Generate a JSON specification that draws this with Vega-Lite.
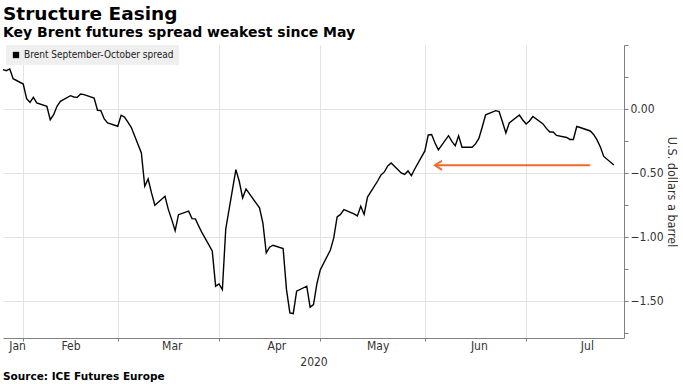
{
  "$schema": "https://vega.github.io/schema/vega-lite/v6.json",
  "background": "#ffffff",
  "padding": {"left": 0, "top": 5, "right": 0, "bottom": 0},
  "autosize": {"type": "pad"},
  "title": {"text": "Source: ICE Futures Europe", "orient": "bottom", "anchor": "start", "frame": "group", "font": "DejaVu Sans", "fontSize": 10.5, "fontWeight": "bold", "color": "#000000", "offset": 5},
  "config": {"view": {"stroke": null}},
  "datasets": {
    "spread": [
      {"date": "2020-01-28", "spread": 0.307}, {"date": "2020-01-29", "spread": 0.299}, {"date": "2020-01-30", "spread": 0.313}, {"date": "2020-01-31", "spread": 0.237},
      {"date": "2020-02-03", "spread": 0.195}, {"date": "2020-02-04", "spread": 0.080}, {"date": "2020-02-05", "spread": 0.052}, {"date": "2020-02-06", "spread": 0.091}, {"date": "2020-02-07", "spread": 0.047},
      {"date": "2020-02-10", "spread": 0.021}, {"date": "2020-02-11", "spread": -0.084}, {"date": "2020-02-12", "spread": -0.045}, {"date": "2020-02-13", "spread": 0.021}, {"date": "2020-02-14", "spread": 0.060},
      {"date": "2020-02-17", "spread": 0.104}, {"date": "2020-02-18", "spread": 0.094}, {"date": "2020-02-19", "spread": 0.091}, {"date": "2020-02-20", "spread": 0.117}, {"date": "2020-02-21", "spread": 0.112},
      {"date": "2020-02-24", "spread": 0.086}, {"date": "2020-02-25", "spread": -0.010}, {"date": "2020-02-26", "spread": -0.013}, {"date": "2020-02-27", "spread": -0.078}, {"date": "2020-02-28", "spread": -0.109},
      {"date": "2020-03-02", "spread": -0.135}, {"date": "2020-03-03", "spread": -0.049}, {"date": "2020-03-04", "spread": -0.063}, {"date": "2020-03-05", "spread": -0.102}, {"date": "2020-03-06", "spread": -0.143},
      {"date": "2020-03-09", "spread": -0.344}, {"date": "2020-03-10", "spread": -0.604}, {"date": "2020-03-11", "spread": -0.547}, {"date": "2020-03-12", "spread": -0.656}, {"date": "2020-03-13", "spread": -0.752},
      {"date": "2020-03-16", "spread": -0.682}, {"date": "2020-03-17", "spread": -0.787}, {"date": "2020-03-18", "spread": -0.865}, {"date": "2020-03-19", "spread": -0.951}, {"date": "2020-03-20", "spread": -0.826},
      {"date": "2020-03-23", "spread": -0.799}, {"date": "2020-03-24", "spread": -0.857}, {"date": "2020-03-25", "spread": -0.859}, {"date": "2020-03-26", "spread": -0.916}, {"date": "2020-03-27", "spread": -0.969},
      {"date": "2020-03-30", "spread": -1.109}, {"date": "2020-03-31", "spread": -1.385},
      {"date": "2020-04-01", "spread": -1.367}, {"date": "2020-04-02", "spread": -1.412}, {"date": "2020-04-03", "spread": -0.938},
      {"date": "2020-04-06", "spread": -0.474}, {"date": "2020-04-07", "spread": -0.565}, {"date": "2020-04-08", "spread": -0.695}, {"date": "2020-04-09", "spread": -0.625},
      {"date": "2020-04-13", "spread": -0.773}, {"date": "2020-04-14", "spread": -0.891}, {"date": "2020-04-15", "spread": -1.125}, {"date": "2020-04-16", "spread": -1.080}, {"date": "2020-04-17", "spread": -1.065},
      {"date": "2020-04-20", "spread": -1.091}, {"date": "2020-04-21", "spread": -1.412}, {"date": "2020-04-22", "spread": -1.594}, {"date": "2020-04-23", "spread": -1.599}, {"date": "2020-04-24", "spread": -1.424},
      {"date": "2020-04-27", "spread": -1.385}, {"date": "2020-04-28", "spread": -1.549}, {"date": "2020-04-29", "spread": -1.529}, {"date": "2020-04-30", "spread": -1.367},
      {"date": "2020-05-01", "spread": -1.258},
      {"date": "2020-05-04", "spread": -1.102}, {"date": "2020-05-05", "spread": -1.008}, {"date": "2020-05-06", "spread": -0.844}, {"date": "2020-05-07", "spread": -0.824}, {"date": "2020-05-08", "spread": -0.787},
      {"date": "2020-05-11", "spread": -0.820}, {"date": "2020-05-12", "spread": -0.836}, {"date": "2020-05-13", "spread": -0.760}, {"date": "2020-05-14", "spread": -0.824}, {"date": "2020-05-15", "spread": -0.688},
      {"date": "2020-05-18", "spread": -0.563}, {"date": "2020-05-19", "spread": -0.516}, {"date": "2020-05-20", "spread": -0.492}, {"date": "2020-05-21", "spread": -0.445}, {"date": "2020-05-22", "spread": -0.422},
      {"date": "2020-05-25", "spread": -0.500}, {"date": "2020-05-26", "spread": -0.512}, {"date": "2020-05-27", "spread": -0.484}, {"date": "2020-05-28", "spread": -0.521}, {"date": "2020-05-29", "spread": -0.469},
      {"date": "2020-06-01", "spread": -0.328}, {"date": "2020-06-02", "spread": -0.203}, {"date": "2020-06-03", "spread": -0.199}, {"date": "2020-06-04", "spread": -0.266}, {"date": "2020-06-05", "spread": -0.320},
      {"date": "2020-06-08", "spread": -0.209}, {"date": "2020-06-09", "spread": -0.254}, {"date": "2020-06-10", "spread": -0.287}, {"date": "2020-06-11", "spread": -0.209}, {"date": "2020-06-12", "spread": -0.299},
      {"date": "2020-06-15", "spread": -0.299}, {"date": "2020-06-16", "spread": -0.273}, {"date": "2020-06-17", "spread": -0.230}, {"date": "2020-06-18", "spread": -0.141}, {"date": "2020-06-19", "spread": -0.045},
      {"date": "2020-06-22", "spread": -0.013}, {"date": "2020-06-23", "spread": -0.020}, {"date": "2020-06-24", "spread": -0.102}, {"date": "2020-06-25", "spread": -0.188}, {"date": "2020-06-26", "spread": -0.109},
      {"date": "2020-06-29", "spread": -0.047}, {"date": "2020-06-30", "spread": -0.086},
      {"date": "2020-07-01", "spread": -0.117}, {"date": "2020-07-02", "spread": -0.094}, {"date": "2020-07-03", "spread": -0.059},
      {"date": "2020-07-06", "spread": -0.117}, {"date": "2020-07-07", "spread": -0.152}, {"date": "2020-07-08", "spread": -0.180}, {"date": "2020-07-09", "spread": -0.180}, {"date": "2020-07-10", "spread": -0.207},
      {"date": "2020-07-13", "spread": -0.223}, {"date": "2020-07-14", "spread": -0.238}, {"date": "2020-07-15", "spread": -0.238}, {"date": "2020-07-16", "spread": -0.137}, {"date": "2020-07-17", "spread": -0.145},
      {"date": "2020-07-20", "spread": -0.172}, {"date": "2020-07-21", "spread": -0.199}, {"date": "2020-07-22", "spread": -0.242}, {"date": "2020-07-23", "spread": -0.297}, {"date": "2020-07-24", "spread": -0.371},
      {"date": "2020-07-27", "spread": -0.438}
    ],
    "arrow": [{"from": "2020-06-04", "to": "2020-07-20", "level": -0.44}]
  },
  "vconcat": [
    {
      "width": 621,
      "height": 293,
      "title": {"text": "Structure Easing", "subtitle": "Key Brent futures spread weakest since May", "anchor": "start", "frame": "group", "font": "DejaVu Sans", "fontSize": 18.5, "fontWeight": "bold", "color": "#000000", "subtitleFont": "DejaVu Sans", "subtitleFontSize": 14, "subtitleFontWeight": "bold", "subtitleColor": "#000000", "subtitlePadding": 2, "offset": 5},
      "resolve": {"axis": {"y": "independent"}},
      "layer": [
        {
          "data": {"name": "spread"},
          "mark": {"type": "line", "color": "#000000", "strokeWidth": 1.4},
          "encoding": {
            "x": {
              "field": "date", "type": "temporal",
              "scale": {"type": "utc", "domain": [{"year": 2020, "month": 1, "date": 28, "utc": true}, {"year": 2020, "month": 7, "date": 30, "utc": true}]},
              "axis": {
                "title": "2020",
                "values": [
                  {"year": 2020, "month": 2, "date": 1, "hours": 4, "utc": true},
                  {"year": 2020, "month": 2, "date": 3, "utc": true},
                  {"year": 2020, "month": 2, "date": 17, "utc": true},
                  {"year": 2020, "month": 3, "date": 2, "utc": true},
                  {"year": 2020, "month": 3, "date": 18, "utc": true},
                  {"year": 2020, "month": 4, "date": 1, "utc": true},
                  {"year": 2020, "month": 4, "date": 18, "utc": true},
                  {"year": 2020, "month": 5, "date": 1, "utc": true},
                  {"year": 2020, "month": 5, "date": 18, "utc": true},
                  {"year": 2020, "month": 6, "date": 1, "utc": true},
                  {"year": 2020, "month": 6, "date": 17, "utc": true},
                  {"year": 2020, "month": 7, "date": 1, "utc": true},
                  {"year": 2020, "month": 7, "date": 19, "utc": true}
                ],
                "labelExpr": "utchours(datum.value) == 4 ? 'Jan' : (utcdate(datum.value) <= 3 ? '' : utcFormat(datum.value, '%b'))",
                "tickOpacity": {"condition": {"test": "utcdate(datum.value) <= 3 && utchours(datum.value) == 0", "value": 1}, "value": 0},
                "gridOpacity": {"condition": {"test": "utcdate(datum.value) <= 3 && utchours(datum.value) == 0", "value": 1}, "value": 0},
                "gridColor": "#e3e3e3",
                "tickSize": 3, "tickColor": "#808080", "domainColor": "#808080",
                "labelFont": "DejaVu Sans Condensed", "labelFontSize": 12, "labelColor": "#333333", "labelPadding": -1,
                "labelFlush": false, "labelOverlap": false, "labelBound": false,
                "titleFont": "DejaVu Sans Condensed", "titleFontSize": 12, "titleFontWeight": "normal", "titleColor": "#333333", "titlePadding": 5
              }
            },
            "y": {
              "field": "spread", "type": "quantitative",
              "scale": {"domain": [-1.79, 0.5], "nice": false, "zero": false},
              "axis": {
                "orient": "right",
                "title": "U.S. dollars a barrel",
                "values": [0, -0.5, -1, -1.5],
                "format": ".2f",
                "grid": true,
                "gridColor": "#e3e3e3",
                "tickSize": 4, "tickColor": "#808080", "domainColor": "#808080",
                "labelFont": "DejaVu Sans Condensed", "labelFontSize": 12, "labelColor": "#333333", "labelPadding": 2,
                "titleFont": "DejaVu Sans Condensed", "titleFontSize": 12.5, "titleFontWeight": "normal", "titleColor": "#333333", "titlePadding": 1
              }
            },
            "color": {
              "datum": "Brent September-October spread", "type": "nominal",
              "scale": {"range": ["#000000"]},
              "legend": {
                "title": null, "orient": "none", "legendX": 3, "legendY": 0,
                "fillColor": "#efefef", "padding": 5,
                "symbolType": "square", "symbolSize": 40, "symbolFillColor": "#000000", "symbolStrokeColor": "#000000", "symbolStrokeWidth": 0,
                "labelFont": "DejaVu Sans Condensed", "labelFontSize": 10, "labelColor": "#222222", "labelOffset": 3
              }
            }
          }
        },
        {
          "data": {"name": "arrow"},
          "mark": {"type": "rule", "color": "#ee6a2d", "strokeWidth": 2},
          "encoding": {
            "x": {"field": "from", "type": "temporal"},
            "x2": {"field": "to"},
            "y": {"field": "level", "type": "quantitative", "axis": null}
          }
        },
        {
          "data": {"name": "arrow"},
          "mark": {"type": "point", "shape": "M1,-0.65L0,0L1,0.65", "size": 196, "filled": false, "color": "#ee6a2d", "strokeWidth": 2, "opacity": 1},
          "encoding": {
            "x": {"field": "from", "type": "temporal"},
            "y": {
              "field": "level", "type": "quantitative",
              "axis": {"orient": "right", "values": [0.5, 0.25, -0.25, -0.75, -1.25, -1.75], "labels": false, "domain": false, "grid": false, "title": null, "tickSize": 4, "tickColor": "#808080"}
            }
          }
        }
      ]
    }
  ]
}
